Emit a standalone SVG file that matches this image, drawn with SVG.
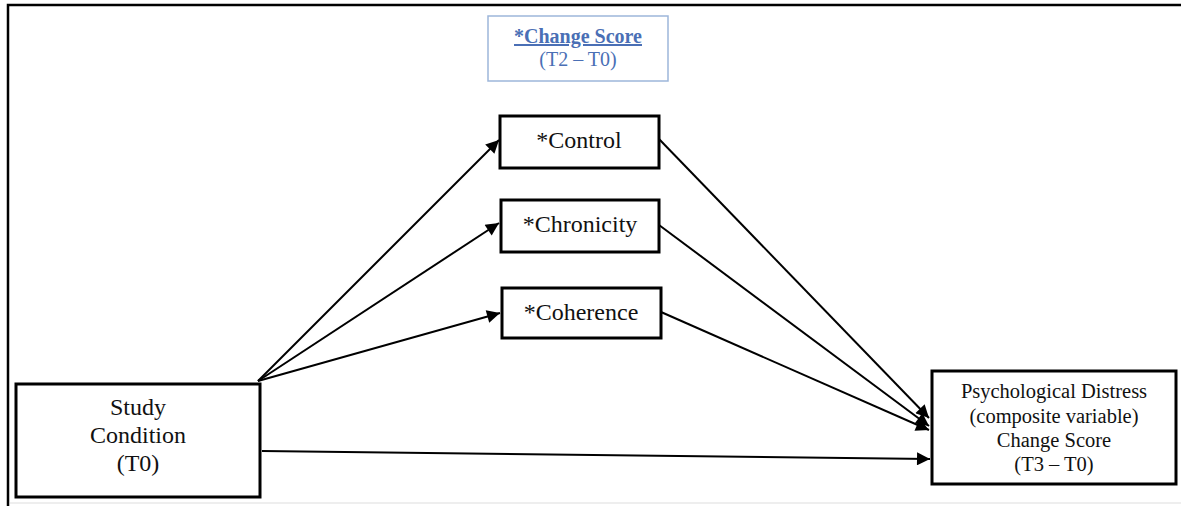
<svg xmlns="http://www.w3.org/2000/svg" width="1181" height="506" viewBox="0 0 1181 506">
<style>
.box{fill:#fff;stroke:#000;stroke-width:3}
.t{font-family:"Liberation Serif",serif;fill:#111;text-anchor:middle}
.c{stroke:#000;stroke-width:2;fill:none;marker-end:url(#ah)}
</style>
<defs>
<marker id="ah" viewBox="0 0 10 10" refX="10" refY="5" markerWidth="7" markerHeight="6.5" markerUnits="strokeWidth" orient="auto">
<path d="M0,0 L10,5 L0,10 z" fill="#000"/>
</marker>
</defs>
<rect width="1181" height="506" fill="#fff"/>
<g id="frame">
<path d="M8,506 V5 H1181" fill="none" stroke="#000" stroke-width="2.5"/>
<line x1="10" y1="503" x2="1181" y2="503" stroke="#ddd" stroke-width="1"/>
</g>
<g id="legend">
<rect x="488" y="16" width="180" height="65" fill="#fff" stroke="#9db6da" stroke-width="1.5"/>
<text x="578" y="43" class="t" font-size="20" font-weight="bold" style="fill:#4a6fb5" text-decoration="underline">*Change Score</text>
<text x="578" y="66" class="t" font-size="20" style="fill:#4a6fb5">(T2 – T0)</text>
</g>
<g id="connectors">
<line class="c" x1="258" y1="381" x2="499" y2="140"/>
<line class="c" x1="258" y1="381" x2="499" y2="223"/>
<line class="c" x1="258" y1="381" x2="500" y2="313"/>
<line class="c" x1="262" y1="451" x2="930" y2="459"/>
<line class="c" x1="659" y1="139" x2="929" y2="418"/>
<line class="c" x1="659" y1="225" x2="929" y2="426"/>
<line class="c" x1="661" y1="312" x2="929" y2="430"/>
</g>
<g id="control">
<rect class="box" x="500" y="116" width="159" height="52"/>
<text class="t" x="579" y="148" font-size="24">*Control</text>
</g>
<g id="chronicity">
<rect class="box" x="501" y="200" width="158" height="52"/>
<text class="t" x="580" y="232" font-size="24">*Chronicity</text>
</g>
<g id="coherence">
<rect class="box" x="502" y="288" width="159" height="50"/>
<text class="t" x="581" y="320" font-size="24">*Coherence</text>
</g>
<g id="study">
<rect class="box" x="16" y="384" width="244" height="113"/>
<text class="t" x="138" y="415" font-size="24">Study</text>
<text class="t" x="138" y="443" font-size="24">Condition</text>
<text class="t" x="138" y="471" font-size="24">(T0)</text>
</g>
<g id="distress">
<rect class="box" x="932" y="371" width="244" height="113"/>
<text class="t" x="1054" y="398" font-size="20.5">Psychological Distress</text>
<text class="t" x="1054" y="423" font-size="20.5">(composite variable)</text>
<text class="t" x="1054" y="447" font-size="20.5">Change Score</text>
<text class="t" x="1054" y="471" font-size="20.5">(T3 – T0)</text>
</g>
</svg>
